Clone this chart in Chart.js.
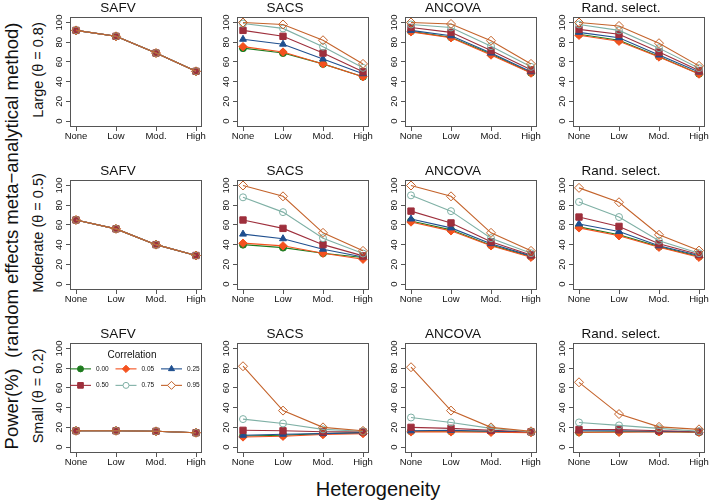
<!DOCTYPE html>
<html>
<head>
<meta charset="utf-8">
<script src="https://cdn.jsdelivr.net/npm/chart.js@4.4.0/dist/chart.umd.min.js"></script>
<style>
    body { margin: 0; width: 709px; height: 503px; position: relative; overflow: hidden; background: #fff;
           font-family: "Liberation Sans", Arial, sans-serif; color: #111; }
    canvas.panel { position: absolute; }
    .lbl { position: absolute; white-space: nowrap; transform: translate(-50%, -50%); }
    .lbl.rot { transform: translate(-50%, -50%) rotate(-90deg); }
</style>
</head>
<body>
<div class="lbl rot" style="left:12px; top:236px; font-size:18.5px;">Power(%)&nbsp; (random effects meta−analytical method)</div>
<div class="lbl rot" id="rowLabel0" style="left:38px; font-size:14.5px;"></div>
<div class="lbl rot" id="rowLabel1" style="left:38px; font-size:14.5px;"></div>
<div class="lbl rot" id="rowLabel2" style="left:38px; font-size:14.5px;"></div>
<div class="lbl" style="left:378px; top:489px; font-size:20px;">Heterogeneity</div>

<script>
const HETEROGENEITY = ['None', 'Low', 'Mod.', 'High'];
const CORRELATIONS = ['0.00', '0.05', '0.25', '0.50', '0.75', '0.95'];
const METHODS = ['SAFV', 'SACS', 'ANCOVA', 'Rand. select.'];
const EFFECTS = ['Large (θ = 0.8)', 'Moderate (θ = 0.5)', 'Small (θ = 0.2)'];
const Y_TICKS = [0, 20, 40, 60, 80, 100];

// SAFV does not depend on the correlation: all six lines sit on top of each other
const safvLarge = [92, 86, 69, 50.5];
const safvModerate = [65, 56, 40, 29];
const safvSmall = [16.5, 16.5, 16, 14.5];

// one row per correlation, same order as CORRELATIONS
const sacsLarge = [
    [74, 69, 58, 45],
    [75.5, 70, 58, 45],
    [83, 78, 63, 48],
    [92, 86, 69, 50],
    [99, 94, 75.5, 54],
    [100, 98, 82, 58]
];
const ancovaLarge = [
    [91, 85, 68, 49],
    [90.5, 84.5, 67, 48.7],
    [92, 86.5, 69, 50],
    [95, 90, 71.5, 52],
    [98, 95, 76, 55],
    [100, 98.5, 81.5, 58]
];
const randLarge = [
    [88, 82, 65.5, 48],
    [87, 81, 65, 47.7],
    [90, 84.5, 67, 49.7],
    [93, 88, 70, 51.3],
    [98, 92, 74, 53.7],
    [100, 96.5, 79, 56]
];

const sacsModerate = [
    [40, 37, 31.3, 27],
    [41.5, 38.8, 31.3, 25.2],
    [50.7, 46, 35.4, 27.5],
    [65, 56.5, 40, 28.6],
    [88, 73, 46.6, 31],
    [100, 89, 52, 33.7]
];
const ancovaModerate = [
    [64, 55, 39.5, 28],
    [63, 54, 38.8, 27.2],
    [66, 57, 41, 28.6],
    [74, 62, 43, 29.6],
    [90, 74, 46.6, 31.3],
    [100, 89, 52, 33.7]
];
const randModerate = [
    [58, 50, 38, 28],
    [57, 49, 37.4, 27.2],
    [61, 53.4, 38.8, 29],
    [68, 58.5, 41, 30],
    [83.3, 68, 44, 31.3],
    [97.6, 83, 50, 34]
];

const sacsSmall = [
    [11.3, 12, 13.7, 14.7],
    [10.3, 11, 12.7, 13.7],
    [12, 13, 13.7, 14.7],
    [17, 16.5, 15.5, 15.5],
    [28.4, 24, 18, 16],
    [82, 37, 20, 16.5]
];
const ancovaSmall = [
    [16, 16, 16, 15],
    [15.4, 15.4, 15, 14.7],
    [16.5, 17, 16, 15.5],
    [20, 19, 17, 15.5],
    [30, 25, 19, 15.5],
    [81, 37, 20, 16]
];
const randSmall = [
    [15, 15.5, 15.5, 15],
    [15, 15, 15.5, 15],
    [16.5, 16.5, 16, 15.5],
    [17.8, 17.8, 16.5, 15.8],
    [25, 22, 19, 16],
    [65.7, 33.5, 20.5, 18]
];

const FONT = '"Liberation Sans", Arial, sans-serif';
const SERIES_COLORS = ['#1e7b1e', '#f4511e', '#1f4f8f', '#9e2f3c', '#7fb0a5', '#c4632b'];
const SERIES_MARKERS = ['circle', 'rectRot', 'triangle', 'rect', 'circle', 'rectRot'];
const SERIES_RADIUS = [3.5, 4.2, 4, 4.5, 3.5, 4.5];
const SERIES_OPEN = [false, false, false, false, true, true];

const COL_LEFT = [70, 237, 405, 573];
const ROW_TOP = [17, 180, 343];
const BOX_W = 132, BOX_H = 110;
const PAD_L = 36, PAD_T = 17, PAD_R = 10, PAD_B = 24;

Chart.defaults.font.family = FONT;
Chart.defaults.color = '#111';

// box around the plot area and the y labels turned sideways, as in the original
const framePlugin = {
    id: 'frameBox',
    afterDraw(chart) {
        const { ctx, chartArea: a } = chart;
        ctx.save();
        ctx.strokeStyle = '#555';
        ctx.lineWidth = 1;
        ctx.strokeRect(Math.round(a.left) + 0.5, Math.round(a.top) + 0.5,
            Math.round(a.right - a.left) - 1, Math.round(a.bottom - a.top) - 1);
        const ys = chart.scales.y;
        ctx.fillStyle = '#111';
        ctx.font = '9.5px ' + FONT;
        ctx.textAlign = 'center';
        ctx.textBaseline = 'middle';
        Y_TICKS.forEach(v => {
            ctx.save();
            ctx.translate(a.left - 11, ys.getPixelForValue(v));
            ctx.rotate(-Math.PI / 2);
            ctx.fillText(String(v), 0, 0);
            ctx.restore();
        });
        ctx.restore();
    }
};

const legendPlugin = {
    id: 'corrLegend',
    afterDraw(chart) {
        const { ctx, chartArea: a } = chart;
        ctx.save();
        ctx.fillStyle = '#111';
        ctx.textAlign = 'center';
        ctx.textBaseline = 'middle';
        ctx.font = '10px ' + FONT;
        ctx.fillText('Correlation', (a.left + a.right) / 2 - 4, a.top + 12);
        ctx.font = '6.5px ' + FONT;
        ctx.textAlign = 'left';
        CORRELATIONS.forEach((c, i) => {
            const x0 = a.left + (i % 3) * 45.5;
            const y = a.top + 26 + Math.floor(i / 3) * 16.5;
            ctx.strokeStyle = SERIES_COLORS[i];
            ctx.lineWidth = 1.1;
            ctx.beginPath();
            ctx.moveTo(x0, y);
            ctx.lineTo(x0 + 21, y);
            ctx.stroke();
            ctx.fillStyle = SERIES_OPEN[i] ? '#fff' : SERIES_COLORS[i];
            ctx.lineWidth = 1;
            Chart.helpers.drawPoint(ctx, { pointStyle: SERIES_MARKERS[i], radius: SERIES_RADIUS[i] - 0.5, borderWidth: 1, rotation: 0 }, x0 + 10.5, y);
            ctx.fillStyle = '#111';
            ctx.fillText(c, x0 + 26, y);
        });
        ctx.restore();
    }
};

function makePanel(row, col, series, extraPlugins) {
    const canvas = document.createElement('canvas');
    canvas.className = 'panel';
    const w = BOX_W + PAD_L + PAD_R;
    const h = BOX_H + PAD_T + PAD_B;
    canvas.width = w;
    canvas.height = h;
    canvas.style.left = COL_LEFT[col] - PAD_L + 'px';
    canvas.style.top = ROW_TOP[row] - PAD_T + 'px';
    canvas.style.width = w + 'px';
    canvas.style.height = h + 'px';
    document.body.appendChild(canvas);

    const datasets = CORRELATIONS.map((c, i) => ({
        label: c,
        data: series[i].map((v, j) => ({ x: j, y: v })),
        borderColor: SERIES_COLORS[i],
        backgroundColor: SERIES_COLORS[i],
        pointBackgroundColor: SERIES_OPEN[i] ? 'rgba(255,255,255,0)' : SERIES_COLORS[i],
        pointBorderColor: SERIES_COLORS[i],
        pointStyle: SERIES_MARKERS[i],
        pointRadius: SERIES_RADIUS[i],
        pointBorderWidth: 1,
        borderWidth: 1.1,
        tension: 0,
        fill: false,
        order: CORRELATIONS.length - 1 - i
    }));

    new Chart(canvas, {
        type: 'line',
        data: { datasets: datasets },
        plugins: [framePlugin].concat(extraPlugins || []),
        options: {
            responsive: false,
            animation: false,
            layout: { padding: { left: 0, right: PAD_R, top: 0, bottom: 0 } },
            plugins: {
                legend: { display: false },
                tooltip: { enabled: false },
                title: {
                    display: true,
                    text: METHODS[col],
                    color: '#111',
                    font: { size: 13.5, weight: 'normal', lineHeight: 1.25 },
                    padding: 0
                }
            },
            scales: {
                x: {
                    type: 'linear',
                    min: -0.15,
                    max: 3.15,
                    afterBuildTicks: s => { s.ticks = HETEROGENEITY.map((_, i) => ({ value: i })); },
                    afterFit: s => { s.height = PAD_B; },
                    ticks: { callback: v => HETEROGENEITY[v], font: { size: 9.5 }, padding: 0, maxRotation: 0, autoSkip: false },
                    grid: { drawOnChartArea: false, drawTicks: true, tickLength: 4, color: '#555' },
                    border: { display: false }
                },
                y: {
                    min: -6,
                    max: 105.7,
                    afterBuildTicks: s => { s.ticks = Y_TICKS.map(v => ({ value: v })); },
                    afterFit: s => { s.width = PAD_L; },
                    ticks: { display: false },
                    grid: { drawOnChartArea: false, drawTicks: true, tickLength: 4, color: '#555' },
                    border: { display: false }
                }
            }
        }
    });
}

const same = vals => CORRELATIONS.map(() => vals);

const PANELS = [
    [same(safvLarge), sacsLarge, ancovaLarge, randLarge],
    [same(safvModerate), sacsModerate, ancovaModerate, randModerate],
    [same(safvSmall), sacsSmall, ancovaSmall, randSmall]
];

PANELS.forEach((rowPanels, r) => {
    const lbl = document.getElementById('rowLabel' + r);
    lbl.textContent = EFFECTS[r];
    lbl.style.top = ROW_TOP[r] + BOX_H / 2 - 2 + 'px';
    rowPanels.forEach((series, c) => {
        makePanel(r, c, series, r === 2 && c === 0 ? [legendPlugin] : []);
    });
});
</script>
</body>
</html>
